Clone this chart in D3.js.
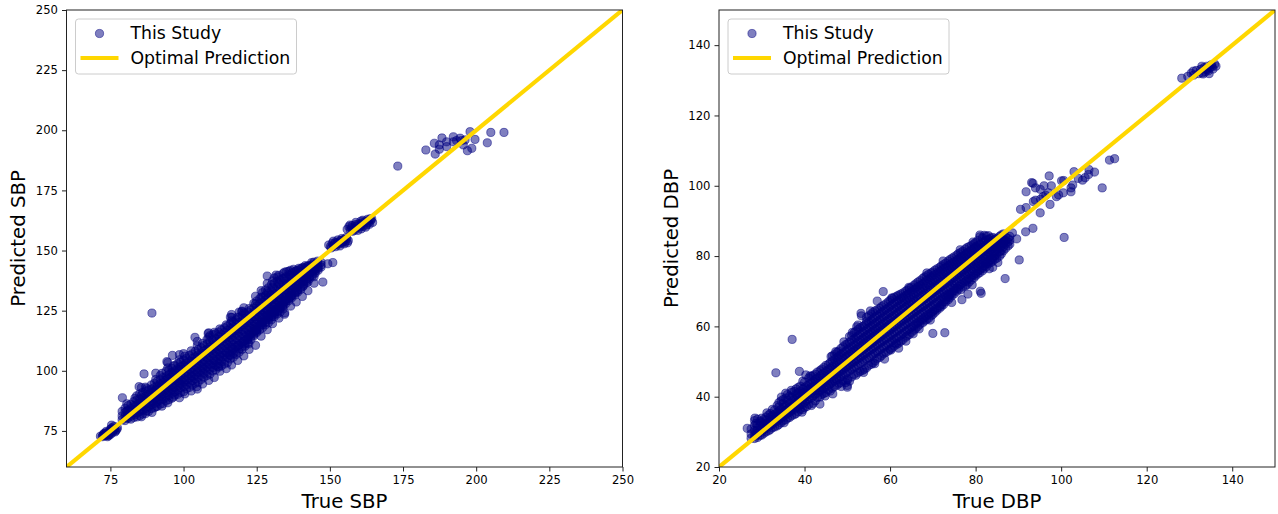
<!DOCTYPE html>
<html>
<head>
<meta charset="utf-8">
<script src="https://cdn.jsdelivr.net/npm/d3@7"></script>
<style>
    body { margin: 0; background: #fff; }
    text { font-family: "DejaVu Sans", sans-serif; fill: #000; }
</style>
</head>
<body>
<div id="chart"></div>
<script>
"use strict"

const sbpTicks = [75, 100, 125, 150, 175, 200, 225, 250];
const dbpTicks = [20, 40, 60, 80, 100, 120, 140];
const legendLabels = ["This Study", "Optimal Prediction"];

// true value : predicted values read at that true value
const sbpBand = [
    [79, [79.6, 81.2, 83.1]], [80, [79.3, 81, 82.7, 84.4]], [81, [80.2, 81.8, 83.6, 85.5]],
    [82, [79.9, 81.2, 82.9, 84.3, 86.1]], [83, [80.6, 82.4, 83.8, 85.6, 87.2]],
    [84, [80.8, 82.5, 84.2, 86, 87.9, 89.6]], [85, [81.3, 83.1, 84.9, 86.7, 88.3, 90.4]],
    [86, [82, 83.6, 85.4, 87.1, 88.8, 91]], [87, [82.2, 84.3, 86, 87.7, 89.4, 91.6, 93.2]],
    [88, [83.1, 85, 86.6, 88.3, 90.1, 92]], [89, [84.3, 85.9, 87.2, 89.1, 90.8, 92.4, 94.1]],
    [90, [84.6, 86.4, 88, 89.7, 91.3, 93, 94.8]], [91, [85.2, 87, 88.9, 90.4, 92.1, 93.7, 95.6]],
    [92, [86.1, 87.8, 89.3, 91.2, 92.8, 94.6, 96.3, 98]], [93, [86.4, 88.2, 90, 91.8, 93.6, 95.1, 97.2]],
    [94, [87.5, 89, 90.9, 92.5, 94.2, 96, 97.6, 99.8]], [95, [88, 89.8, 91.4, 93.3, 95, 96.7, 98.4, 100.2]],
    [96, [88.6, 90.6, 92.2, 94.1, 95.9, 97.4, 99.3, 101]], [97, [89.9, 91.3, 93.1, 94.8, 96.5, 98.3, 100, 102.2]],
    [98, [90.2, 92, 93.8, 95.6, 97.4, 99.2, 100.9, 103]], [99, [91, 92.9, 94.6, 96.2, 98.1, 99.9, 101.7, 103.6]],
    [100, [91.3, 93.4, 95.2, 97, 98.9, 100.6, 102.4, 104.5]], [101, [92.5, 94.2, 96.1, 97.9, 99.6, 101.5, 103.3, 105.2]],
    [102, [93.1, 95, 96.8, 98.7, 100.5, 102.2, 104.1, 106.4]], [103, [94, 95.8, 97.6, 99.4, 101.3, 103.1, 105, 107]],
    [104, [94.8, 96.7, 98.4, 100.3, 102.1, 103.9, 105.8, 108.1]], [105, [95.2, 97.3, 99.2, 101, 102.9, 104.7, 106.6, 108.8]],
    [106, [96.4, 98.1, 100.1, 101.9, 103.7, 105.5, 107.4, 109.6]], [107, [97.3, 99, 100.8, 102.7, 104.6, 106.4, 108.3, 110.5]],
    [108, [98, 99.7, 101.6, 103.5, 105.4, 107.2, 109.1, 111.2, 113]], [109, [98.6, 100.5, 102.5, 104.3, 106.2, 108, 110, 112.1, 114.6]],
    [110, [99.9, 101.4, 103.2, 105.1, 107, 108.9, 110.8, 112.7, 115]], [111, [100.4, 102.2, 104, 106, 107.9, 109.7, 111.6, 113.4, 115.4]],
    [112, [101.5, 103, 104.9, 106.8, 108.6, 110.5, 112.4, 114.2, 116.1]], [113, [102.1, 103.9, 105.7, 107.5, 109.5, 111.3, 113.2, 115.1, 117]],
    [114, [102.8, 104.6, 106.5, 108.4, 110.3, 112.2, 114, 116, 117.9]], [115, [103.4, 105.5, 107.3, 109.2, 111.1, 113, 114.9, 116.8, 118.6]],
    [116, [104.9, 106.3, 108.2, 110, 111.9, 113.8, 115.7, 117.6, 119.7, 122.3]], [117, [105.6, 107.2, 109, 110.9, 112.8, 114.7, 116.6, 118.4, 120.4]],
    [118, [106.8, 108, 109.9, 111.7, 113.6, 115.5, 117.4, 119.2, 121.2]], [119, [107.7, 109.1, 110.7, 112.6, 114.4, 116.3, 118.2, 120.1, 122.2, 124.4]],
    [120, [108.9, 110, 111.6, 113.4, 115.3, 117.1, 119, 120.9, 123, 124.8]], [121, [110.2, 111.2, 112.5, 114.2, 116.1, 118, 119.8, 121.8, 123.7]],
    [122, [111.6, 112.9, 113.4, 115.1, 117, 118.8, 120.7, 122.6, 124.5]], [123, [112.9, 114.1, 115.3, 116, 117.8, 119.7, 121.6, 123.4, 125.3]],
    [124, [114.5, 115.2, 116.2, 117, 118.7, 120.6, 122.4, 124.3, 126.1, 128]], [125, [115.9, 116.4, 117.1, 118, 119.6, 121.4, 123.3, 125.2, 127, 129]],
    [126, [117, 118.3, 119, 120.5, 122.3, 124.2, 126, 127.9, 129.9]], [127, [117.9, 119.2, 120, 121.4, 123.1, 125, 126.9, 128.7, 130.7, 132.5]],
    [128, [119.1, 120.3, 121.2, 122.4, 124, 125.9, 127.7, 129.5, 131.3, 133.6]], [129, [120, 121.4, 122.2, 123.3, 124.9, 126.7, 128.6, 130.4, 132.3, 134.5]],
    [130, [121.2, 122.5, 123.3, 124.2, 125.8, 127.6, 129.4, 131.3, 133.2, 135.8]], [131, [122.5, 123.4, 124.1, 125.2, 126.7, 128.4, 130.3, 132.1, 134, 136.4, 138.6]],
    [132, [123.6, 124.6, 125.2, 126.1, 127.5, 129.3, 131.1, 133, 135, 137.2, 139]], [133, [124.4, 125.8, 126.2, 127.1, 128.4, 130.2, 132, 133.8, 135.7, 137.8]],
    [134, [125.7, 126.9, 127.3, 128.1, 129.3, 131, 132.8, 134.6, 136.5, 138.4, 140.4]], [135, [128, 128.9, 130, 131.9, 133.7, 135.5, 137.3, 139.1]],
    [136, [129.2, 130.1, 131, 132.8, 134.5, 136.3, 138.1, 140, 141.4]], [137, [130.4, 131.2, 132, 133.6, 135.4, 137.2, 138.9, 140.7]],
    [138, [131.5, 132.3, 133, 134.6, 136.2, 138, 139.6, 141.2]], [139, [132.7, 133.6, 135.4, 137, 138.8, 140.3, 141.8]],
    [140, [133.8, 134.6, 136.3, 137.9, 139.5, 141, 142.4]], [141, [135.4, 136, 137.2, 138.8, 140.3, 141.7, 142.8]],
    [142, [136.7, 137.4, 138.2, 139.6, 141, 142.3, 143.2]], [143, [138.2, 139, 140.4, 141.8, 143, 143.7]],
    [144, [139.4, 140.1, 141.3, 142.6, 143.6, 144.3]], [145, [140.6, 141.4, 142.2, 143.3, 144.2]],
    [146, [141.8, 142.6, 143.4, 144.6]], [147, [143.1, 144, 145.1]],
    // second pass between the whole numbers
    [80.6, [80.4, 83.2, 86.3]], [83.4, [81.7, 85.1, 88.6]], [85.6, [80.9, 85.8, 89.7, 93]], [87.4, [83.4, 88.1, 92.6]],
    [90.5, [85.1, 88.7, 92.2, 96.4, 99]], [92.6, [85.3, 90.3, 94.1, 98.9]], [94.6, [86.7, 92, 96.7, 101.2, 103.4]],
    [96.5, [89.1, 93.4, 98.7, 102]], [98.6, [88.8, 94.9, 100.4, 104.6, 106.7]], [100.4, [90.4, 96.2, 101.9, 106.1]],
    [102.6, [91.6, 97.8, 103.6, 108.3]], [104.7, [92.4, 99.7, 105.2, 110.4, 112.2]], [106.5, [94.5, 101.3, 106.9, 111.4]],
    [108.6, [96, 102.9, 108.7, 113.9, 115.8]], [110.5, [97.2, 104.4, 110.2, 116]], [112.4, [99.8, 106.1, 112.1, 117.4]],
    [114.6, [100.9, 107.9, 113.7, 119.1]], [116.4, [102.4, 109.5, 115.2, 120.8, 123.4]], [118.5, [104.3, 110.4, 117, 122.3]],
    [120.6, [106.2, 112.3, 118.9, 124.1, 126.2]], [122.4, [108.9, 114.8, 120.1, 125.9]], [124.6, [110.6, 116.9, 122.6, 127.8, 131]],
    [126.5, [114.4, 120.2, 125.4, 130.6, 133.3]], [128.6, [117.1, 122.9, 127.3, 132.8, 136.3]], [130.4, [119.6, 124.7, 129.9, 134.7, 137.4]],
    [132.6, [121.9, 126.6, 131.8, 136.4, 139.7]], [134.5, [123.5, 128.9, 133.6, 138.5, 141]], [136.6, [126.9, 130.8, 135.6, 139.7, 141.8]],
    [138.5, [128.6, 132.7, 137.4, 141.6]], [140.6, [130.9, 134.8, 139.2, 142.9]], [142.5, [133.3, 136.9, 140.6, 143.6]],
    [144.6, [136.4, 139.1, 142.3, 145.2]]
];

const sbpPoints = [
    // lowest group
    [71.6, 72.8], [72.2, 72.6], [72.6, 73.6], [73, 72.9], [73.4, 74.2], [73.8, 73.1], [74.2, 74.4], [74.6, 73.5],
    [75, 74.7], [75.3, 75.9], [75.7, 74.3], [76, 75.2], [76.4, 75.9], [76.8, 75.1], [77.2, 75.6], [75.4, 77.4],
    [72.9, 74], [74, 72.6], [74.9, 75.6], [76.3, 76.9], [72.4, 73.1], [73.2, 73.4], [74.4, 73], [75.1, 73.6],
    [75.9, 75.8], [76.6, 74.6], [77.4, 76.3], [73.6, 74.8], [74.7, 74.1], [75.6, 76.4],
    // stray points around the band
    [89.2, 124], [79.1, 88.8], [86.5, 98.7], [89.2, 82.7], [96.2, 106.4], [100, 107.1], [94.3, 103.8], [84.8, 93.4],
    [104.5, 93.4], [103.9, 113.9], [108.4, 115.5], [115.9, 106.6], [119.9, 124.6], [116.5, 122.2], [111.8, 101.8],
    [128.6, 139.4], [131.6, 139.8], [134.6, 124.1], [122.3, 111.2], [147.6, 136.9], [149.3, 144.5], [151, 145],
    [129.9, 131.6], [135.2, 141.2], [137.6, 142.2], [139.4, 142.6], [141.6, 143.7], [143.8, 145], [145.8, 145.6],
    // 150 group
    [149.6, 152.3], [150.2, 151.6], [150.8, 153], [151.3, 152], [151.8, 153.3], [152.3, 152.5], [152.8, 153.6],
    [153.3, 152.8], [153.8, 154.2], [154.3, 153.2], [154.8, 154.6], [155.3, 153.7], [155.8, 154.8], [156.3, 154.1],
    [150.5, 151.1], [151.2, 153.9], [152, 151.6], [152.7, 154.4], [153.4, 151.9], [154.1, 155], [154.9, 152.8],
    [155.6, 155.4], [156, 153.2], [151.6, 152.7], [153, 153.1], [154.5, 153.9],
    // 160 group
    [155.9, 158.8], [156.5, 159.9], [157, 158.5], [157.6, 160.4], [158.1, 159.1], [158.7, 160.8], [159.2, 159.4],
    [159.8, 161.1], [160.3, 159.8], [160.9, 161.5], [161.4, 160.1], [162, 162], [162.5, 160.6], [163, 162.3],
    [163.5, 160.9], [164, 162.6], [164.6, 161.7], [158.4, 158.4], [160.6, 162.2], [156.9, 160.6], [157.8, 158],
    [158.9, 161.7], [159.6, 158.4], [160.7, 159], [161.3, 162.6], [162.2, 159.7], [162.9, 163], [163.8, 163.2],
    [159, 160.1], [161, 160.8], [163.2, 161.6], [157.4, 159.4], [164.3, 163.2],
    // upper group
    [173.2, 185.1], [182.8, 191.8], [186, 190.1], [185.7, 194.6], [188.3, 196.8], [187.4, 193.9], [187.4, 192.1],
    [189.9, 195.2], [189.9, 193.2], [192.2, 197.3], [192.2, 195.2], [193.3, 195.7], [194.5, 196.7], [195, 195.7],
    [196.2, 196], [197.9, 199.4], [199.6, 196.2], [198.5, 192.5], [197, 191.5], [195.6, 193.9], [203.8, 194.8],
    [205, 199.1], [209.5, 199.1]
];

const dbpBand = [
    [27.5, [28.2, 29.4, 30.8]], [28.3, [28.1, 29.2, 30.4, 31.8, 33.2]], [29, [28.4, 29.6, 30.9, 32.2, 33.6]],
    [30, [29.1, 30.2, 31.3, 32.6, 33.9]], [31, [30, 31.1, 32.2, 33.3, 34.2]], [32, [30.7, 31.9, 33, 34.1, 35.2]],
    [33, [31.4, 32.8, 33.9, 35, 36.2]], [34, [32.1, 33.5, 34.7, 35.9, 37.1, 38.3]], [35, [33.2, 34.3, 35.6, 36.9, 38.1, 39.2]],
    [36, [33.9, 35.2, 36.4, 37.7, 39, 40.6]], [37, [34.6, 36, 37.3, 38.6, 39.9, 41.2]], [38, [35.2, 36.8, 38.2, 39.5, 40.7, 42.2]],
    [39, [36.4, 37.7, 39, 40.3, 41.6, 43]], [40, [36.9, 38.4, 39.8, 41.2, 42.6, 44.1]], [41, [37.8, 39.3, 40.7, 42.1, 43.5, 45.3]],
    [42, [38.1, 40.2, 41.6, 43, 44.4, 46]], [43, [39.8, 41.1, 42.5, 43.9, 45.3, 47]], [44, [40.6, 42, 43.4, 44.8, 46.3, 47.8]],
    [45, [41.2, 42.8, 44.2, 45.7, 47.2, 48.9]], [46, [41.6, 43.6, 45.1, 46.6, 48.1, 49.7]], [47, [42.9, 44.5, 46, 47.5, 49, 50.6, 52]],
    [48, [43.8, 45.3, 46.8, 48.4, 49.9, 51.5, 53]], [49, [44.5, 46.2, 47.7, 49.2, 50.8, 52.4, 54.2]], [50, [43.2, 45.1, 46.9, 48.6, 50.1, 51.7, 53.3, 55]],
    [51, [45.6, 47.8, 49.5, 51, 52.6, 54.2, 56, 57.4]], [52, [46.1, 48.6, 50.4, 51.9, 53.5, 55.1, 56.8, 58.6]],
    [53, [47.2, 49.5, 51.2, 52.8, 54.4, 56, 57.7, 59.6]], [54, [47.8, 50.3, 52.1, 53.7, 55.3, 56.9, 58.6, 60.3]],
    [55, [48.9, 51.1, 53, 54.6, 56.2, 57.8, 59.5, 61.2, 63]], [56, [49.6, 52, 53.8, 55.5, 57.1, 58.7, 60.4, 62.1, 64]],
    [57, [50.9, 52.8, 54.7, 56.4, 58, 59.6, 61.3, 63, 64.7]], [58, [51.7, 53.7, 55.6, 57.3, 58.9, 60.5, 62.2, 63.9, 65.6]],
    [59, [52.6, 54.6, 56.4, 58.1, 59.8, 61.4, 63.1, 64.8, 66.4]], [60, [53.5, 55.4, 57.3, 59, 60.7, 62.3, 64, 65.7, 67.4]],
    [61, [54.4, 56.3, 58.2, 59.9, 61.5, 63.2, 64.9, 66.6, 68.3]], [62, [55.2, 57.1, 59, 60.8, 62.4, 64.1, 65.8, 67.4, 68.9]],
    [63, [56.2, 58, 59.9, 61.7, 63.3, 65, 66.7, 68.2, 69.5]], [64, [57.3, 58.9, 60.8, 62.5, 64.2, 65.9, 67.5, 69, 70.3]],
    [65, [58.3, 59.8, 61.6, 63.4, 65.1, 66.8, 68.4, 69.9, 71.2]], [66, [59.4, 60.7, 62.5, 64.3, 66, 67.6, 69.3, 70.8, 72.1]],
    [67, [60.6, 61.6, 63.4, 65.2, 66.9, 68.5, 70.2, 71.7, 73]], [68, [61.5, 62.5, 64.3, 66, 67.8, 69.4, 71, 72.5, 74]],
    [69, [62.3, 63.4, 65.1, 66.9, 68.6, 70.3, 71.9, 73.4, 74.8]], [70, [63.4, 64.3, 66, 67.8, 69.5, 71.2, 72.8, 74.3, 75.5]],
    [71, [64.6, 65.2, 66.9, 68.7, 70.4, 72, 73.6, 75.1, 76.4]], [72, [65.7, 66.3, 67.8, 69.6, 71.3, 72.9, 74.5, 76, 77.2]],
    [73, [67, 67.6, 68.7, 70.4, 72.1, 73.8, 75.3, 76.8, 78]], [74, [68.2, 69, 69.6, 71.3, 73, 74.6, 76.2, 77.6, 79]],
    [75, [69.3, 70.2, 70.8, 72.2, 73.9, 75.5, 77, 78.4, 79.8]], [76, [70.6, 71.4, 73.1, 74.7, 76.3, 77.9, 79.2, 80.7]],
    [77, [71.2, 72.4, 74, 75.6, 77.2, 78.7, 80, 81.4]], [78, [71.9, 73.3, 74.9, 76.5, 78, 79.6, 80.9, 82.4]],
    [79, [73.2, 74.2, 75.8, 77.4, 78.9, 80.4, 81.7, 83]], [80, [74.4, 75.2, 76.7, 78.2, 79.8, 81.2, 82.6, 83.8]],
    [81, [75.3, 76.1, 77.6, 79.1, 80.6, 82, 83.4, 85.5]], [82, [76.4, 77.2, 78.5, 80, 81.5, 82.8, 84.1, 85.9]],
    [83, [77.8, 78.4, 79.6, 81, 82.3, 83.6, 84.8]], [84, [78.6, 79.5, 80.8, 82.1, 83.2, 84.4, 85.3]],
    [85, [79.4, 80.7, 81.9, 83, 84, 85.1]], [86, [80.6, 81.6, 82.9, 83.9, 84.9, 86]], [87, [82.2, 83.4, 84.4, 85.4]],
    [88, [83.4, 84.5, 85.6]],
    // second pass between the whole numbers
    [28.6, [28.9, 30.1, 32.4]], [29.6, [29, 30.5, 31.6, 33]], [30.5, [29.6, 30.7, 32.1, 33.5]], [31.6, [30.3, 31.5, 32.7, 34.8]],
    [32.5, [31.2, 32.3, 33.6, 34.7, 36.4]], [33.6, [31.7, 33.1, 34.4, 35.5, 37.5]], [34.5, [32.6, 34, 35.2, 36.4, 38.8]],
    [35.6, [33.4, 34.9, 36.1, 37.4, 39.6, 41]], [36.5, [34.1, 35.6, 36.9, 38.2, 40.2]], [37.6, [34.9, 36.4, 37.8, 39.1, 41.5]],
    [38.5, [35.7, 37.2, 38.6, 39.9, 41.1, 42.6]], [39.6, [36.3, 37.9, 39.4, 40.8, 42.2, 44.4]], [40.5, [37.2, 38.9, 40.3, 41.7, 43.1]],
    [41.6, [37.5, 39.7, 41.1, 42.6, 44, 45.8]], [42.5, [38.8, 40.7, 42, 43.5, 44.9, 46.4]], [43.6, [39.9, 41.6, 43, 44.4, 45.8, 47.4]],
    [44.5, [40.9, 42.4, 43.8, 45.3, 46.7, 48.3]], [45.6, [41.9, 43.2, 44.6, 46.2, 47.7, 49.2]], [46.5, [42.4, 44.1, 45.6, 47, 48.6, 50.2, 51.6]],
    [47.6, [43.3, 44.9, 46.4, 47.9, 49.5, 51.1, 52.6]], [48.5, [43.9, 45.7, 47.3, 48.8, 50.4, 52, 53.7]], [49.6, [44, 46.6, 48.2, 49.7, 51.3, 52.9, 54.8]],
    [50.5, [44.4, 47.3, 49, 50.5, 52.1, 53.7, 55.5, 57.1]], [51.6, [46.4, 48.2, 49.9, 51.5, 53.1, 54.7, 56.4, 58.2]],
    [52.5, [46.8, 49, 50.8, 52.4, 54, 55.6, 57.3, 59.1, 60.4]], [53.6, [47.5, 49.9, 51.7, 53.3, 54.9, 56.5, 58.2, 60]],
    [54.5, [48.2, 50.7, 52.5, 54.2, 55.8, 57.4, 59.1, 60.8, 62.6]], [55.6, [49.2, 51.6, 53.4, 55.1, 56.7, 58.3, 60, 61.7, 63.5]],
    [56.5, [50.2, 52.4, 54.3, 56, 57.6, 59.2, 60.9, 62.6, 64.4]], [57.6, [51.2, 53.3, 55.2, 56.9, 58.5, 60.1, 61.8, 63.5, 65.1]],
    [58.5, [52.3, 54.1, 56, 57.7, 59.4, 61, 62.7, 64.4, 66]], [59.6, [53, 55, 56.9, 58.6, 60.3, 61.9, 63.6, 65.3, 67]],
    [60.5, [53.9, 55.9, 57.7, 59.5, 61.1, 62.8, 64.5, 66.2, 67.9]], [61.6, [54.9, 56.7, 58.6, 60.4, 62, 63.7, 65.4, 67.1, 68.6]],
    [62.5, [55.8, 57.6, 59.5, 61.3, 62.9, 64.6, 66.3, 67.9, 69.2]], [63.6, [56.9, 58.5, 60.4, 62.1, 63.8, 65.5, 67.1, 68.7, 70]],
    [64.5, [57.7, 59.3, 61.2, 63, 64.7, 66.4, 68, 69.5, 70.8]], [65.6, [58.9, 60.2, 62.1, 63.9, 65.6, 67.3, 68.9, 70.4, 71.7]],
    [66.5, [60, 61.1, 63, 64.8, 66.5, 68.1, 69.8, 71.3, 72.6]], [67.6, [61, 62, 63.9, 65.6, 67.4, 69, 70.6, 72.1, 73.6]],
    [68.5, [61.9, 63, 64.7, 66.5, 68.2, 69.9, 71.5, 73, 74.4]], [69.6, [63, 63.9, 65.6, 67.4, 69.1, 70.8, 72.4, 73.9, 75.2]],
    [70.5, [64, 64.8, 66.5, 68.3, 70, 71.6, 73.2, 74.7, 76]], [71.6, [65.2, 65.8, 67.4, 69.2, 70.9, 72.5, 74.1, 75.6, 76.8]],
    [72.5, [66.2, 67, 68.3, 70, 71.7, 73.4, 74.9, 76.4, 77.6]], [73.6, [67.6, 68.4, 69.2, 70.9, 72.6, 74.2, 75.8, 77.2, 78.6]],
    [74.5, [68.8, 69.6, 71.8, 73.5, 75.1, 76.6, 78, 79.4]], [75.6, [70, 70.9, 72.7, 74.4, 75.9, 77.4, 78.8, 80.3]],
    [76.5, [70.4, 71.9, 73.6, 75.2, 76.8, 78.3, 79.7, 81]], [77.6, [71.5, 72.8, 74.5, 76.1, 77.7, 79.2, 80.5, 82]],
    [78.5, [72.6, 73.7, 75.4, 77, 78.5, 80, 81.3, 82.7]], [79.6, [73.8, 74.7, 76.3, 77.8, 79.4, 80.8, 82.2, 83.5]],
    [80.5, [74.9, 75.7, 77.2, 78.7, 80.2, 81.6, 83, 84.4]], [81.6, [75.8, 76.7, 78.1, 79.6, 81.1, 82.4, 83.8, 85.2]],
    [82.5, [77, 77.9, 79.1, 80.5, 81.9, 83.2, 84.5, 85.7]], [83.6, [78.2, 79, 80.3, 81.6, 82.8, 84, 85.1]],
    [84.5, [79.1, 80.1, 81.4, 82.6, 83.7, 84.8]], [85.6, [80, 81.2, 82.4, 83.5, 84.6, 85.6]], [86.5, [81.5, 82.6, 83.7, 84.7, 86.3]],
    [87.6, [82.9, 84, 85]]
];

const dbpPoints = [
    // stray points around the band
    [26.6, 31], [33.3, 46.8], [37.1, 56.3], [38.8, 47.2], [40.3, 46.2], [43.6, 37.9], [46.6, 40.8], [50, 42.7],
    [50.1, 44.8], [47.3, 52.8], [52.2, 59.9], [53.2, 63.7], [53.3, 63], [54.5, 61.5], [57, 67.2], [58.4, 69.9],
    [58.7, 50.7], [60.2, 53.3], [62, 53.8], [63.7, 55.8], [66.8, 59.3], [70, 58], [72.8, 58.2], [76.8, 67.6],
    [78.2, 69.2], [81.1, 70], [81.3, 69.4], [84, 76.8], [86.9, 73.6], [90.2, 78.9], [81, 86], [83, 85.8],
    [28.4, 33.9], [31.2, 35.4], [34.6, 39.9], [36.9, 41.8], [41.3, 45.9], [46.2, 51.4], [49.2, 55.6], [51.2, 58.3],
    [55.4, 64.4], [60.4, 68.1], [64.4, 71.1], [68.6, 75.2], [72.4, 78.6], [76.4, 81.8], [79.4, 84],
    [35.2, 32.6], [39.4, 35.6], [44.8, 40.2], [48.6, 42.9], [53.8, 46.9], [56.4, 49.4], [61.4, 55.2], [65.4, 57.9],
    [69.4, 61.8], [74.4, 66.8], [79.2, 71.8], [83.2, 76.4], [85.2, 78.2],
    // thin part above 88
    [88.6, 86.6], [89.6, 84.9], [91.7, 86.9], [93.4, 87.9], [95.1, 92.3], [90.5, 93.3], [91.8, 93.8], [93.5, 95.5],
    [94, 95.9], [91.8, 98.3], [93.1, 100.9], [93.4, 100.7], [94, 99.4], [95.1, 99], [96, 100], [97.2, 102.8],
    [97.7, 100], [97.4, 94.7], [95.8, 96.9], [96.4, 97.3], [97, 98], [95.2, 96.2], [98.9, 96.9], [99.4, 97.4],
    [100.5, 98], [102.3, 98.3], [100.1, 101.4], [100.6, 101.5], [102.7, 100.2], [102.3, 99.4], [103, 104], [104, 102.1],
    [105, 101.6], [105.6, 102.3], [106.4, 103.2], [107.8, 103.9], [106.5, 104.6], [109.6, 99.4], [100.7, 85.3],
    [111.3, 107.3], [112.5, 107.7],
    // top group
    [128.2, 130.6], [129.6, 131.1], [130.4, 132], [131, 131.5], [131.6, 132.8], [132.2, 131.9], [132.6, 133.1],
    [133, 132.1], [133.4, 133.6], [133.7, 132.4], [134.1, 134], [134.4, 132.7], [134.8, 133.6], [135.1, 134.4],
    [135.5, 133.2], [135.9, 134.6], [136.2, 134], [133.2, 131.8], [134.6, 131.9], [130.9, 132.6], [132.9, 134],
    [134.2, 133.1], [135.3, 133.9], [133.8, 133.2]
];

const width = 1278,
    height = 514;

const svg = d3.select("#chart").append("svg")
    .attr("width", width)
    .attr("height", height);

function flatten(band, extra) {
    const out = [];
    band.forEach((row) => {
        row[1].forEach((p) => out.push([row[0], p]));
    });
    return out.concat(extra);
}

function drawPanel(id, left, domain, ticks, points, xLabel, yLabel, yLabelX) {
    const w = 556, top = 10, h = 457;

    const scaleX = d3.scaleLinear().domain(domain).range([0, w]);
    const scaleY = d3.scaleLinear().domain(domain).range([h, 0]);

    const g = svg.append("g")
        .attr("transform", "translate(" + left + "," + top + ")");

    g.append("clipPath").attr("id", id)
        .append("rect")
        .attr("width", w)
        .attr("height", h);

    g.append("g")
        .attr("clip-path", "url(#" + id + ")")
        .selectAll("circle")
        .data(points)
        .join("circle")
        .attr("cx", (d) => scaleX(d[0]))
        .attr("cy", (d) => scaleY(d[1]))
        .attr("r", 4.1)
        .attr("fill", "#000080")
        .attr("fill-opacity", 0.5)
        .attr("stroke", "#000080")
        .attr("stroke-opacity", 0.5)
        .attr("stroke-width", 1);

    // optimal line runs corner to corner
    g.append("line")
        .attr("clip-path", "url(#" + id + ")")
        .attr("x1", scaleX(domain[0]))
        .attr("y1", scaleY(domain[0]))
        .attr("x2", scaleX(domain[1]))
        .attr("y2", scaleY(domain[1]))
        .attr("stroke", "#FFD700")
        .attr("stroke-width", 4.2);

    const xAxis = d3.axisBottom(scaleX).tickValues(ticks).tickSize(4.5).tickPadding(4).tickFormat(d3.format("d"));
    const yAxis = d3.axisLeft(scaleY).tickValues(ticks).tickSize(4.5).tickPadding(4).tickFormat(d3.format("d"));

    g.append("g").attr("transform", "translate(0," + h + ")").call(xAxis);
    g.append("g").call(yAxis);
    g.selectAll(".domain").remove();
    g.selectAll(".tick text")
        .style("font-family", '"DejaVu Sans", sans-serif')
        .style("font-size", "11.6px");
    g.selectAll(".tick line").attr("stroke", "#222");

    g.append("rect")
        .attr("width", w)
        .attr("height", h)
        .attr("fill", "none")
        .attr("stroke", "#222")
        .attr("stroke-width", 1);

    // legend
    const legend = g.append("g").attr("transform", "translate(9,9)");
    legend.append("rect")
        .attr("width", 221)
        .attr("height", 55)
        .attr("rx", 3)
        .attr("fill", "#fff")
        .attr("fill-opacity", 0.8)
        .attr("stroke", "#ccc");
    legend.append("circle")
        .attr("cx", 24)
        .attr("cy", 14.5)
        .attr("r", 4.1)
        .attr("fill", "#000080")
        .attr("fill-opacity", 0.5)
        .attr("stroke", "#000080")
        .attr("stroke-opacity", 0.5);
    legend.append("line")
        .attr("x1", 5)
        .attr("x2", 43)
        .attr("y1", 39)
        .attr("y2", 39)
        .attr("stroke", "#FFD700")
        .attr("stroke-width", 4.2);
    legend.selectAll("text.label")
        .data(legendLabels)
        .join("text")
        .attr("class", "label")
        .attr("x", 55)
        .attr("y", (d, i) => 20 + i * 25)
        .style("font-size", "17.3px")
        .text((d) => d);

    svg.append("text")
        .attr("x", left + w / 2)
        .attr("y", 508)
        .attr("text-anchor", "middle")
        .style("font-size", "19.7px")
        .text(xLabel);

    svg.append("text")
        .attr("transform", "translate(" + yLabelX + "," + (top + h / 2) + ") rotate(-90)")
        .attr("text-anchor", "middle")
        .style("font-size", "19.7px")
        .text(yLabel);
}

drawPanel("clip-sbp", 66.5, [60, 250], sbpTicks, flatten(sbpBand, sbpPoints), "True SBP", "Predicted SBP", 25);
drawPanel("clip-dbp", 719, [20, 150], dbpTicks, flatten(dbpBand, dbpPoints), "True DBP", "Predicted DBP", 678);
</script>
</body>
</html>
